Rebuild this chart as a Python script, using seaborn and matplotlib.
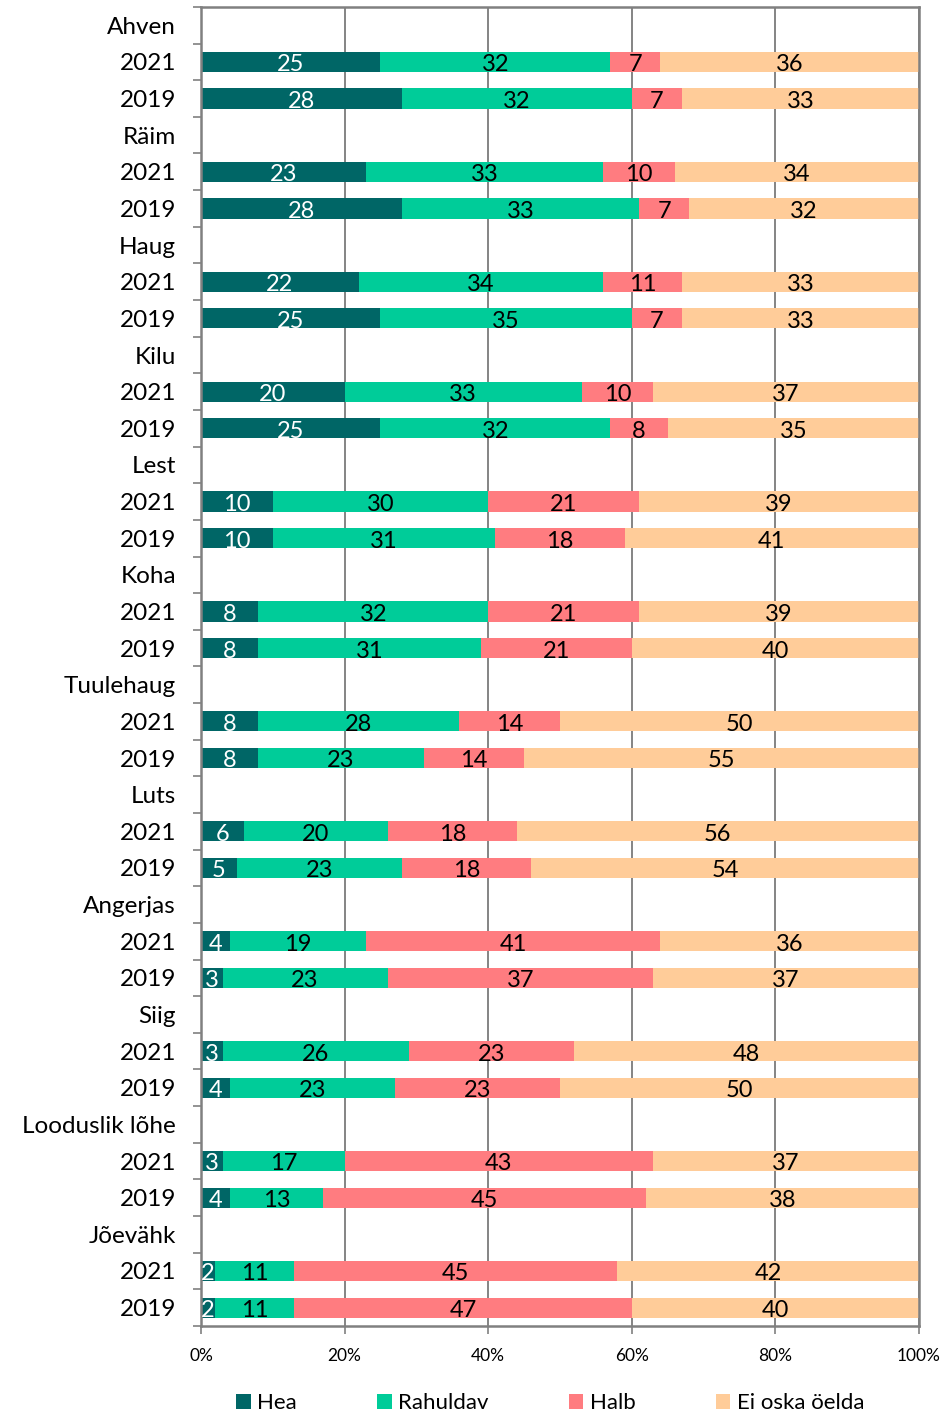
import numpy as np
import pandas as pd
import seaborn as sns
import matplotlib.pyplot as plt
from matplotlib.patches import Patch

species = ["Ahven", "Räim", "Haug", "Kilu", "Lest", "Koha", "Tuulehaug",
           "Luts", "Angerjas", "Siig", "Looduslik lõhe", "Jõevähk"]
years = ["2021", "2019"]

hea_2021 = [25, 23, 22, 20, 10, 8, 8, 6, 4, 3, 3, 2]
hea_2019 = [28, 28, 25, 25, 10, 8, 8, 5, 3, 4, 4, 2]
rah_2021 = [32, 33, 34, 33, 30, 32, 28, 20, 19, 26, 17, 11]
rah_2019 = [32, 33, 35, 32, 31, 31, 23, 23, 23, 23, 13, 11]
halb_2021 = [7, 10, 11, 10, 21, 21, 14, 18, 41, 23, 43, 45]
halb_2019 = [7, 7, 7, 8, 18, 21, 14, 18, 37, 23, 45, 47]
ei_2021 = [36, 34, 33, 37, 39, 39, 50, 56, 36, 48, 37, 42]
ei_2019 = [33, 32, 33, 35, 41, 40, 55, 54, 37, 50, 38, 40]

series = ["Hea", "Rahuldav", "Halb", "Ei oska öelda"]
COLORS = ["#006666", "#00CC99", "#FF7C80", "#FFCC99"]
TEXT_COLORS = ["white", "black", "black", "black"]

# build rows: header row per species then 2021, 2019
rows = []
for i, sp in enumerate(species):
    rows.append({"label": sp, "vals": None})
    rows.append({"label": years[0], "vals": [hea_2021[i], rah_2021[i], halb_2021[i], ei_2021[i]]})
    rows.append({"label": years[1], "vals": [hea_2019[i], rah_2019[i], halb_2019[i], ei_2019[i]]})

recs = []
for r, row in enumerate(rows):
    rec = {"row": r}
    if row["vals"] is None:
        for k in range(4):
            rec["cum%d" % k] = np.nan
    else:
        c = np.cumsum(row["vals"])
        for k in range(4):
            rec["cum%d" % k] = c[k]
    recs.append(rec)
df = pd.DataFrame(recs)
plot_df = df.dropna()

plt.rcParams['font.family'] = ['Lato', 'DejaVu Sans']
fig = plt.figure(figsize=(9.52, 14.16), dpi=100)
ax = fig.add_axes([0.2111, 0.0636, 0.7542, 0.9315])

order = list(range(len(rows)))
for k in [3, 2, 1, 0]:
    sns.barplot(data=plot_df, x="cum%d" % k, y="row", orient="h", order=order,
                color=COLORS[k], saturation=1, width=0.55, linewidth=0, ax=ax)

# value labels
for r, row in enumerate(rows):
    if row["vals"] is None:
        continue
    left = 0
    for k, v in enumerate(row["vals"]):
        ax.text(left + v / 2, r + 0.08, str(v), ha="center", va="center",
                fontsize=17, color=TEXT_COLORS[k])
        left += v

ax.set_xlim(0, 100)
ax.set_ylim(len(rows) - 0.5, -0.5)
ax.set_xticks([0, 20, 40, 60, 80, 100])
ax.set_xticklabels(["0%", "20%", "40%", "60%", "80%", "100%"], fontsize=12.5)
ax.set_yticks(order)
ax.set_yticklabels([row["label"] for row in rows], fontsize=17.5)
ax.tick_params(axis="y", which="major", length=0, pad=18)
ax.set_yticks(np.arange(-0.5, len(rows), 1), minor=True)
ax.tick_params(axis="y", which="minor", length=6, color="#808080", width=1.2)
ax.tick_params(axis="x", length=6, color="#808080", width=1.2, pad=10)
ax.set_xlabel("")
ax.set_ylabel("")

ax.set_axisbelow(True)
ax.grid(axis="x", color="#707070", linewidth=1.2)
ax.grid(axis="y", visible=False)
for s in ax.spines.values():
    s.set_color("#808080")
    s.set_linewidth(1.8)

handles = [Patch(facecolor=c, edgecolor="none") for c in COLORS]
fig.legend(handles, series, loc="center", bbox_to_anchor=(0.578, 0.009), ncol=4,
           frameon=False, fontsize=16, handlelength=0.65, handleheight=0.65,
           handletextpad=0.3, columnspacing=3.6)

fig.savefig("out.png", dpi=100)
